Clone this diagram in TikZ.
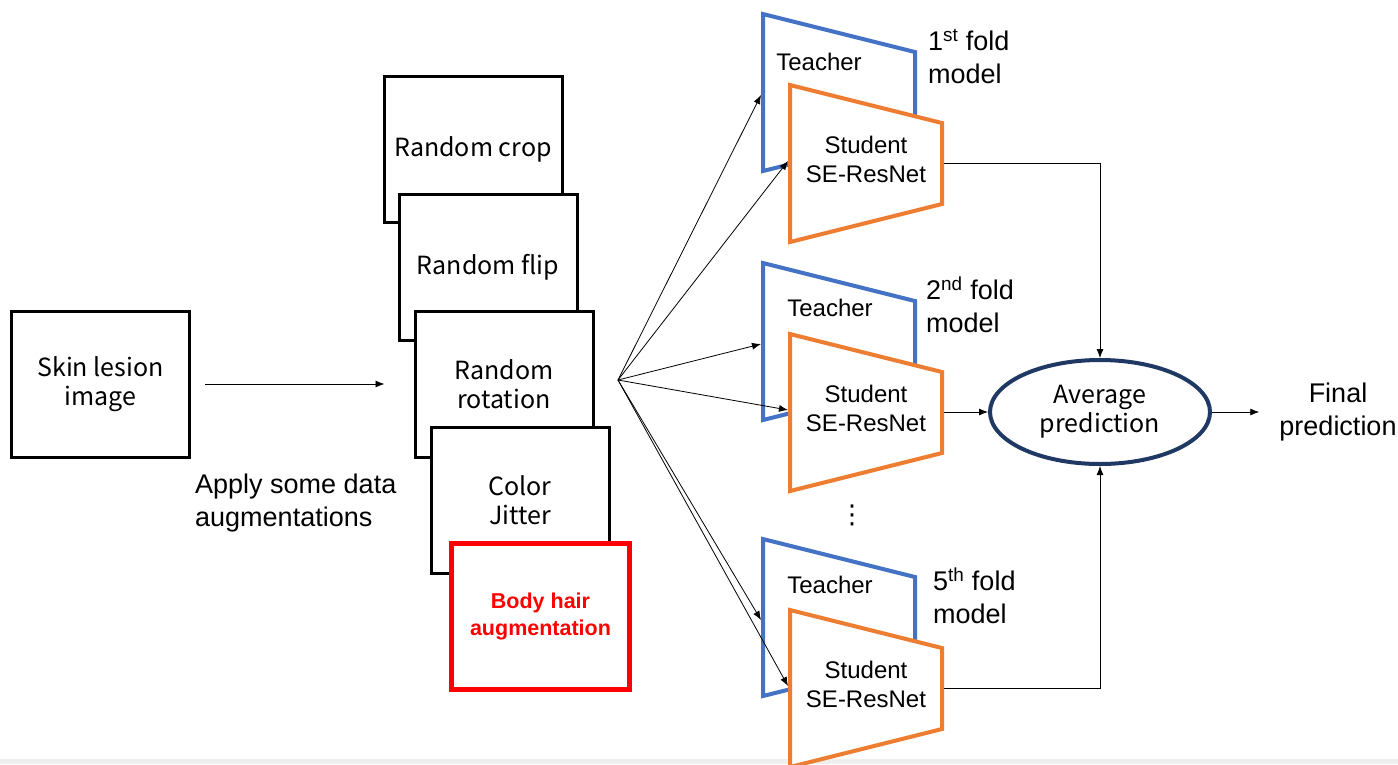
\documentclass[tikz,border=0pt]{standalone}
\usepackage{fontspec}
\setmainfont{Liberation Sans}
\newfontfamily\gothic{Noto Sans CJK JP}
\newfontfamily\dotsfont{DejaVu Sans}
\usetikzlibrary{arrows.meta,positioning,shapes.geometric}
\definecolor{teacherblue}{HTML}{4472C4}
\definecolor{studentorange}{HTML}{ED7D31}
\definecolor{avgnavy}{HTML}{1F3864}
\definecolor{hairred}{HTML}{FF0000}
\definecolor{bandgray}{HTML}{EFEFEF}
\tikzset{
	box/.style={draw,line width=3pt,fill=white,minimum width=178pt,minimum height=146pt,align=center,font=\gothic\fontsize{25}{29}\selectfont},
	hairbox/.style={box,draw=hairred,line width=5pt,text=hairred,font=\bfseries\fontsize{21.5}{27}\selectfont},
	teacher/.style={draw=teacherblue,line width=4pt,fill=white},
	student/.style={draw=studentorange,line width=4pt,fill=white},
	avgnode/.style={ellipse,draw=avgnavy,line width=4pt,fill=white,minimum width=220pt,minimum height=104pt,inner sep=0pt,align=center,font=\gothic\fontsize{25}{29}\selectfont},
	netlabel/.style={align=center,inner sep=0pt,font=\fontsize{24}{29}\selectfont},
	caption/.style={align=left,inner sep=0pt,font=\fontsize{27}{33}\selectfont},
	link/.style={-{Latex[length=9pt,width=7pt]},line width=0.8pt}
}

\begin{document}
\begin{tikzpicture}[x=1pt,y=-1pt]
	\clip (0,0) rectangle (1398,764);
	\fill[bandgray] (0,759) rectangle (1398,764);

	\node[box] (skin) at (100.5,384) {Skin lesion\\image};
	\node[caption,anchor=west] (apply) at (195,503) {Apply some data\\augmentations};

	\node[box] (crop) at (473,149.5) {Random crop};
	\node[box] (flip) at (488,267) {Random flip};
	\node[box] (rotation) at (504,384) {Random\\rotation};
	\node[box] (jitter) at (520,500.5) {Color\\Jitter};
	\node[hairbox] (hair) at (540.5,616) {Body hair\\augmentation};
	\coordinate (fan) at (618,380);

	\draw[link,shorten <=14pt,shorten >=29pt] (skin.east) -- (rotation.west);

	% teacher and student of each fold
	\foreach \t/\k/\tx/\ty in {14/1/819/48,263/2/830/45,539/5/830/46}{
		\draw[teacher] (763,\t) -- (915,\t+38) -- (915,\t+119) -- (763,\t+157) -- cycle;
		\node[netlabel] (teacher\k) at (\tx,\t+\ty) {Teacher};
		\draw[student] (790,\t+71) -- (942,\t+109) -- (942,\t+190) -- (790,\t+228) -- cycle;
		\node[netlabel] (student\k) at (866,\t+145) {Student\\SE-ResNet};
		\coordinate (tin\k) at (761,\t+81);
		\coordinate (sin\k) at (788,\t+147);
		\coordinate (sout\k) at (944,\t+149);
	}
	\node[caption] (fold1) at (928,57) [anchor=west] {1\textsuperscript{st} fold\\model};
	\node[caption] (fold2) at (926,305) [anchor=west] {2\textsuperscript{nd} fold\\model};
	\node[caption] (fold5) at (933,596) [anchor=west] {5\textsuperscript{th} fold\\model};
	\node[inner sep=0pt,font=\dotsfont\fontsize{26}{26}\selectfont] (dots) at (852,515) {⋮};

	\node[avgnode] (avg) at (1100,412) {Average\\prediction};
	\node[caption,align=center] (final) at (1338,412) {Final\\prediction};

	\foreach \k in {1,2,5}{
		\draw[link] (fan) -- (tin\k);
		\draw[link] (fan) -- (sin\k);
	}
	\draw[link] (sout1) -| (avg.north);
	\draw[link] (sout2) -- (avg.west);
	\draw[link] (sout5) -| (avg.south);
	\draw[link,shorten >=20pt] (avg.east) -- (final.west);
\end{tikzpicture}
\end{document}
